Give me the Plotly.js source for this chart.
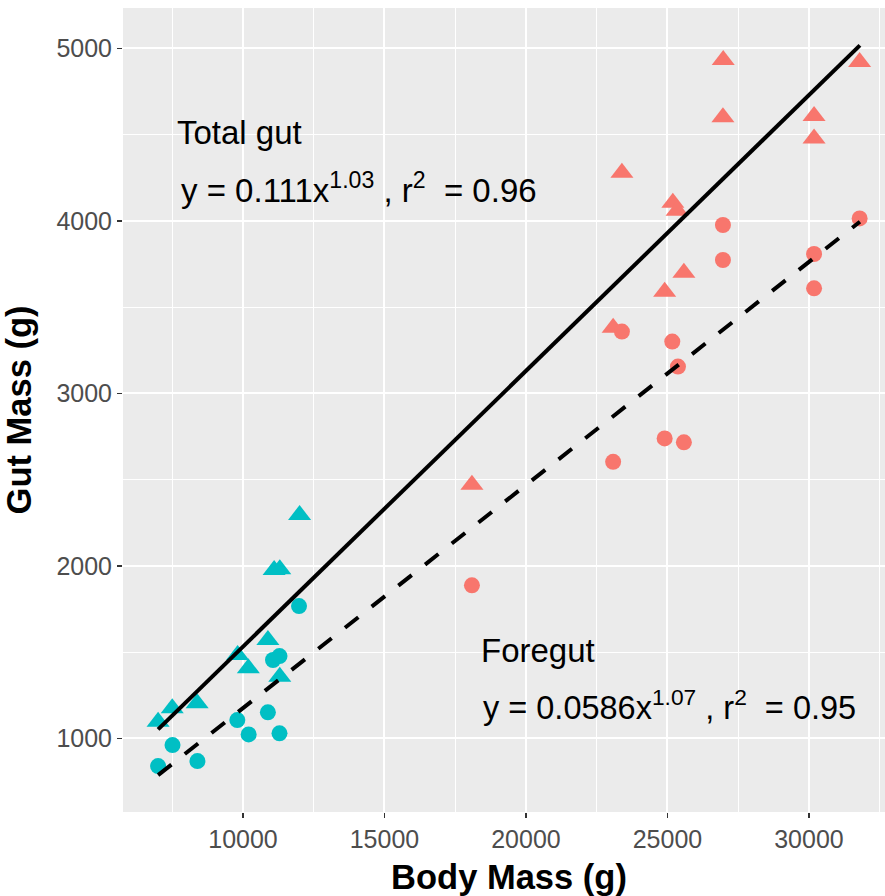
<!DOCTYPE html>
<html>
<head>
<meta charset="utf-8">
<script src="https://cdn.plot.ly/plotly-3.0.1.min.js"></script>
<style>
html, body { margin: 0; padding: 0; overflow: hidden; background: #ffffff; }
#chart { width: 895px; height: 896px; }
</style>
</head>
<body>
<div id="chart"></div>
<script>
// Group 1 (cyan): body mass, total gut mass (triangles), foregut mass (circles)
const cyanMass  = [7000, 7500, 8380, 9810, 10190, 10880, 11100, 11300, 11300, 12000];
const cyanTotal = [1096, 1174, 1203, 1483, 1406, 1570, 1976, 1980, 1357, 2295];
const cyanMassF = [7000, 7510, 8390, 9800, 10200, 10880, 11060, 11290, 11290, 11980];
const cyanFore  = [839, 961, 868, 1106, 1023, 1151, 1454, 1477, 1029, 1767];

// Group 2 (red)
const redMass  = [18090, 23080, 23390, 24900, 25190, 25340, 25580, 26970, 26960, 30180, 30180, 31790];
const redTotal = [2470, 3380, 4279, 3589, 4105, 4058, 3699, 4932, 4600, 4608, 4478, 4921];
const redMassF = [18090, 23080, 23390, 24900, 25170, 25370, 25580, 26960, 26960, 30180, 30180, 31790];
const redFore  = [1887, 2603, 3358, 2739, 3300, 3155, 2716, 3976, 3773, 3808, 3609, 4014];

// Fitted lines (end points)
const fitMass  = [7000, 31800];
const totalFit = [1052, 5017];
const foreFit  = [787, 3995];

// Tick labels
const xTicks = [10000, 15000, 20000, 25000, 30000];
const yTicks = [1000, 2000, 3000, 4000, 5000];

const RED = '#F8766D', CYAN = '#00BFC4';
const FONT = 'Liberation Sans, Arial, Helvetica, sans-serif';

const traces = [
  {x: cyanMass, y: cyanTotal, type: 'scatter', mode: 'markers',
   marker: {symbol: 'triangle-up', size: 20, color: CYAN}},
  {x: cyanMassF, y: cyanFore, type: 'scatter', mode: 'markers',
   marker: {symbol: 'circle', size: 16, color: CYAN}},
  {x: redMass, y: redTotal, type: 'scatter', mode: 'markers',
   marker: {symbol: 'triangle-up', size: 20, color: RED}},
  {x: redMassF, y: redFore, type: 'scatter', mode: 'markers',
   marker: {symbol: 'circle', size: 16, color: RED}},
  {x: fitMass, y: totalFit, type: 'scatter', mode: 'lines',
   line: {color: '#000000', width: 4}},
  {x: fitMass, y: foreFit, type: 'scatter', mode: 'lines',
   line: {color: '#000000', width: 4, dash: '17px,17px'}}
];

const annFont = {family: FONT, size: 33, color: '#000000'};
const annFont2 = {family: FONT, size: 32.5, color: '#000000'};

const layout = {
  width: 895, height: 896,
  margin: {l: 123, r: 0, t: 8, b: 84},
  paper_bgcolor: '#ffffff',
  plot_bgcolor: '#EBEBEB',
  showlegend: false,
  font: {family: FONT},
  xaxis: {
    range: [5760, 33040],
    tickmode: 'array', tickvals: xTicks, ticktext: xTicks.map(String),
    ticks: 'outside', ticklen: 5, tickwidth: 1.5, tickcolor: '#333333',
    tickfont: {family: FONT, size: 25, color: '#4D4D4D'},
    showgrid: true, gridcolor: '#ffffff', gridwidth: 2,
    minor: {tickmode: 'linear', dtick: 2500, tick0: 0, showgrid: true, gridcolor: '#ffffff', gridwidth: 1, ticks: ''},
    zeroline: false, showline: false,
    title: {text: '<b>Body Mass (g)</b>', font: {family: FONT, size: 34.5, color: '#000000'}, standoff: 15}
  },
  yaxis: {
    range: [573, 5234],
    tickmode: 'array', tickvals: yTicks, ticktext: yTicks.map(String),
    ticks: 'outside', ticklen: 5, tickwidth: 1.5, tickcolor: '#333333',
    tickfont: {family: FONT, size: 25, color: '#4D4D4D'},
    showgrid: true, gridcolor: '#ffffff', gridwidth: 2,
    minor: {tickmode: 'linear', dtick: 500, tick0: 0, showgrid: true, gridcolor: '#ffffff', gridwidth: 1, ticks: ''},
    zeroline: false, showline: false,
    title: {text: '<b>Gut Mass (g)</b>', font: {family: FONT, size: 34.5, color: '#000000'}, standoff: 14}
  },
  annotations: [
    {x: 7600, y: 4515, xref: 'x', yref: 'y', xanchor: 'left', yanchor: 'middle',
     text: 'Total gut', showarrow: false, font: annFont},
    {x: 7730, y: 4190, xref: 'x', yref: 'y', xanchor: 'left', yanchor: 'middle',
     text: 'y = 0.111x<sup>1.03</sup> , r<sup>2</sup>&nbsp; = 0.96', showarrow: false, font: annFont},
    {x: 18340, y: 1512, xref: 'x', yref: 'y', xanchor: 'left', yanchor: 'middle',
     text: 'Foregut', showarrow: false, font: annFont},
    {x: 18400, y: 1192, xref: 'x', yref: 'y', xanchor: 'left', yanchor: 'middle',
     text: 'y = 0.0586x<sup>1.07</sup> , r<sup>2</sup>&nbsp; = 0.95', showarrow: false, font: annFont2}
  ]
};

Plotly.newPlot('chart', traces, layout, {displayModeBar: false, staticPlot: true});
</script>
</body>
</html>
